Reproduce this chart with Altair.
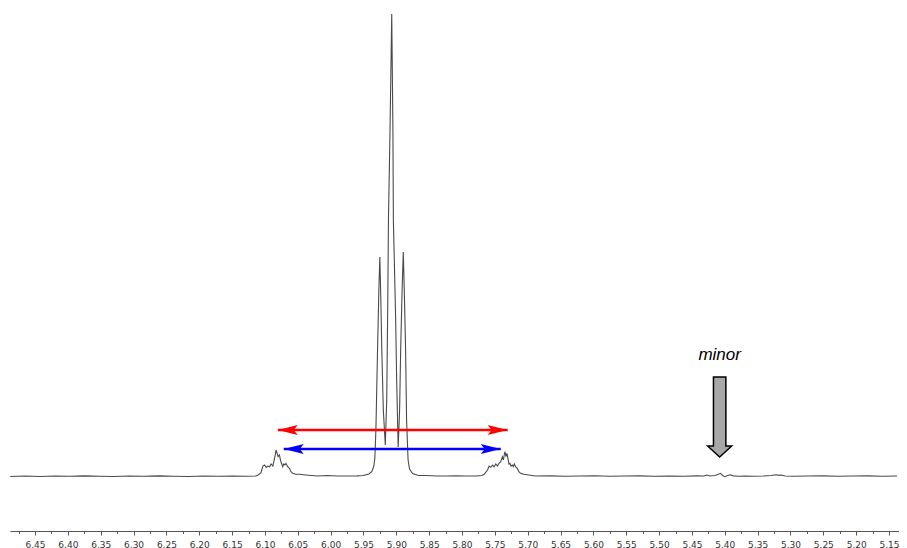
import altair as alt
import pandas as pd

# 1H NMR trace (chemical shift in ppm, relative intensity with baseline = 0, tallest line = 100)
ppm = [
    6.4877, 6.4651, 6.4425, 6.4198, 6.3972, 6.3746, 6.3520, 6.3293, 6.3067, 6.2841,
    6.2615, 6.2388, 6.2162, 6.1936, 6.1710, 6.1483, 6.1287, 6.1137, 6.1106, 6.1061,
    6.1031, 6.1005, 6.0981, 6.0956, 6.0930, 6.0906, 6.0880, 6.0854, 6.0830, 6.0815,
    6.0800, 6.0779, 6.0764, 6.0749, 6.0729, 6.0714, 6.0695, 6.0680, 6.0654, 6.0628,
    6.0604, 6.0578, 6.0529, 6.0477, 6.0378, 6.0201, 6.0050, 5.9900, 5.9749, 5.9598,
    5.9508, 5.9417, 5.9372, 5.9342, 5.9327, 5.9311, 5.9286, 5.9266, 5.9251, 5.9236,
    5.9221, 5.9198, 5.9168, 5.9146, 5.9130, 5.9120, 5.9096, 5.9070, 5.9052, 5.9045,
    5.9010, 5.8995, 5.8972, 5.8950, 5.8934, 5.8912, 5.8894, 5.8879, 5.8859, 5.8844,
    5.8821, 5.8799, 5.8753, 5.8663, 5.8542, 5.8391, 5.8241, 5.8090, 5.7939, 5.7788,
    5.7698, 5.7663, 5.7612, 5.7587, 5.7562, 5.7536, 5.7512, 5.7486, 5.7461, 5.7437,
    5.7411, 5.7385, 5.7370, 5.7355, 5.7346, 5.7331, 5.7316, 5.7301, 5.7286, 5.7271,
    5.7256, 5.7234, 5.7219, 5.7204, 5.7185, 5.7159, 5.7135, 5.7109, 5.7060, 5.6984,
    5.6883, 5.6657, 5.6431, 5.6204, 5.5978, 5.5752, 5.5526, 5.5299, 5.5073, 5.4847,
    5.4621, 5.4425, 5.4319, 5.4274, 5.4229, 5.4153, 5.4108, 5.4067, 5.4032, 5.4002,
    5.3957, 5.3916, 5.3866, 5.3791, 5.3685, 5.3565, 5.3414, 5.3293, 5.3248, 5.3213,
    5.3173, 5.3142, 5.3082, 5.2961, 5.2735, 5.2509, 5.2283, 5.2056, 5.1830, 5.1604,
    5.1378,
]
intensity = [
    -0.11, 0.00, -0.11, 0.00, -0.06, 0.04, -0.04, -0.11, 0.00, -0.06,
    0.04, -0.04, -0.11, 0.00, -0.06, 0.00, -0.04, 0.00, 0.22, 0.65,
    2.16, 2.38, 1.88, 2.16, 2.01, 2.60, 2.16, 3.83, 5.63, 4.91,
    4.18, 4.55, 3.46, 2.75, 2.01, 2.60, 2.38, 2.75, 2.01, 1.67,
    0.93, 0.58, 0.37, 0.37, 0.22, 0.00, 0.11, 0.00, 0.00, 0.04,
    0.11, 0.43, 0.97, 2.16, 3.90, 9.96, 27.27, 40.26, 47.40, 38.10,
    27.27, 14.29, 6.71, 16.45, 38.10, 55.41, 74.89, 100.00, 74.89, 55.41,
    33.77, 20.78, 6.28, 14.29, 27.27, 40.26, 48.48, 40.26, 27.27, 12.12,
    3.46, 1.52, 0.54, 0.11, 0.11, 0.00, 0.00, 0.04, 0.00, 0.00,
    0.11, 0.37, 1.30, 2.16, 1.88, 2.38, 2.01, 2.60, 2.16, 2.75,
    3.10, 4.18, 3.46, 4.76, 5.26, 4.18, 4.91, 3.83, 2.60, 2.75,
    2.16, 2.38, 2.01, 2.60, 2.01, 1.67, 0.93, 0.58, 0.37, 0.22,
    0.00, 0.04, -0.04, 0.00, 0.06, -0.04, 0.00, 0.04, -0.06, 0.00,
    -0.04, 0.04, 0.00, 0.22, 0.00, 0.11, 0.32, 0.58, 0.11, -0.15,
    0.11, 0.28, 0.04, -0.04, 0.00, -0.04, 0.00, 0.11, 0.22, 0.28,
    0.15, 0.22, 0.00, -0.04, 0.00, 0.04, -0.04, 0.00, 0.04, -0.04,
    0.00,
]

# double-headed arrows spanning the 13C satellites
arrow_start = [6.0805, 6.0714]
arrow_end = [5.7305, 5.7411]
arrow_level = [9.96, 5.84]
arrow_color = ["#ff0000", "#0000ff"]

# "minor" annotation
minor_ppm = [5.4078]
minor_tip = [4.11]
minor_text_level = [26.2]
minor_label = ["minor"]

tick_values = [round(5.15 + 0.025 * i, 3) for i in range(54)]

spec = pd.DataFrame({"ppm": ppm, "intensity": intensity})
arrows = pd.DataFrame({"start": arrow_start, "end": arrow_end,
                       "level": arrow_level, "col": arrow_color})
minor = pd.DataFrame({"ppm": minor_ppm, "tip": minor_tip,
                      "tl": minor_text_level, "label": minor_label})

x_scale = alt.Scale(domain=[5.1348, 6.4881], reverse=True, nice=False, zero=False)
y_scale = alt.Scale(domain=[-11.9, 101.3], nice=False, zero=False)

major_test = "abs(round(datum.value*1000)) % 50 == 0"
x_axis = alt.Axis(
    values=tick_values,
    title=None,
    grid=False,
    labelExpr=f"{major_test} ? format(datum.value, '.2f') : ''",
    labelOverlap=False,
    labelFlush=False,
    tickSize={"condition": {"test": major_test, "value": 4}, "value": 2.5},
)

line = alt.Chart(spec).mark_line(color="#4a4a4a", strokeWidth=1.1).encode(
    x=alt.X("ppm:Q", scale=x_scale, axis=x_axis),
    y=alt.Y("intensity:Q", scale=y_scale, axis=None),
)

shafts = alt.Chart(arrows).mark_rule(strokeWidth=2.5).encode(
    x=alt.X("start:Q", scale=x_scale, axis=x_axis),
    x2="end:Q",
    y=alt.Y("level:Q", scale=y_scale, axis=None),
    color=alt.Color("col:N", scale=None),
)

left_head = alt.Chart(arrows).mark_point(
    shape="M0,0 L2,-0.5 L1.6,0 L2,0.5 Z", size=400, filled=True, opacity=1, strokeWidth=0
).encode(
    x=alt.X("start:Q", scale=x_scale, axis=x_axis),
    y=alt.Y("level:Q", scale=y_scale, axis=None),
    color=alt.Color("col:N", scale=None),
)

right_head = alt.Chart(arrows).mark_point(
    shape="M0,0 L-2,-0.5 L-1.6,0 L-2,0.5 Z", size=400, filled=True, opacity=1, strokeWidth=0
).encode(
    x=alt.X("end:Q", scale=x_scale, axis=x_axis),
    y=alt.Y("level:Q", scale=y_scale, axis=None),
    color=alt.Color("col:N", scale=None),
)

minor_arrow = alt.Chart(minor).mark_point(
    shape="M-0.62,-8 L0.62,-8 L0.62,-1.1 L1.2,-1.1 L0,0 L-1.2,-1.1 L-0.62,-1.1 Z",
    size=400, filled=True, opacity=1, fill="#a8a8a8", stroke="#000000", strokeWidth=1.5,
).encode(
    x=alt.X("ppm:Q", scale=x_scale, axis=x_axis),
    y=alt.Y("tip:Q", scale=y_scale, axis=None),
)

minor_txt = alt.Chart(minor).mark_text(
    font="Liberation Sans", fontStyle="italic", fontSize=17, color="#000000",
    baseline="middle", align="center",
).encode(
    x=alt.X("ppm:Q", scale=x_scale, axis=x_axis),
    y=alt.Y("tl:Q", scale=y_scale, axis=None),
    text="label:N",
)

chart = alt.layer(line, shafts, left_head, right_head, minor_arrow, minor_txt).properties(
    width=889,
    height=523,
    autosize=alt.AutoSizeParams(type="none"),
    padding={"left": 2, "top": 0, "right": 0, "bottom": 17},
).configure_view(stroke=None).configure_axis(
    domainColor="#555555",
    tickColor="#555555",
    labelColor="#333333",
    labelFont="DejaVu Sans",
    labelFontSize=9,
    labelPadding=5,
    domainWidth=1,
    tickWidth=1,
)

chart.save("out.html", embed_options={"renderer": "svg", "actions": False})
